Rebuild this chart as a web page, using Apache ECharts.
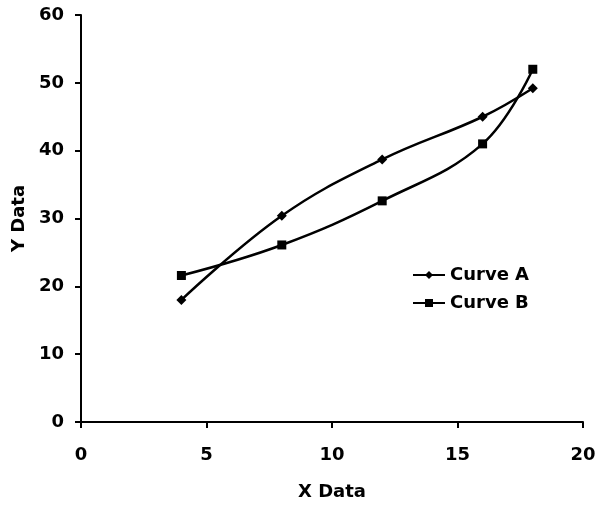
<!DOCTYPE html>
<html><head><meta charset="utf-8">
<script src="https://cdn.jsdelivr.net/npm/echarts@6/dist/echarts.min.js"></script>
<style>html,body{margin:0;padding:0;background:#fff}#c{width:595px;height:506px}</style>
</head><body><div id="c"></div>
<script>
const xValues = [4, 8, 12, 16, 18];
const curveA = [18.0, 30.4, 38.7, 45.0, 49.2];
const curveB = [21.6, 26.1, 32.6, 41.0, 52.0];
const seriesNames = ['Curve A', 'Curve B'];

const chart = echarts.init(document.getElementById('c'));
const font = '"DejaVu Sans", Arial, sans-serif';
const axisCommon = {
  axisLine: { show: true, lineStyle: { color: '#000', width: 2 } },
  axisTick: { show: true, inside: false, length: 6, lineStyle: { color: '#000', width: 2 } },
  splitLine: { show: false },
  axisLabel: { color: '#000', fontFamily: font, fontWeight: 'bold', fontSize: 18 },
  nameTextStyle: { color: '#000', fontFamily: font, fontWeight: 'bold', fontSize: 18 }
};
chart.setOption({
  animation: false,
  backgroundColor: '#fff',
  grid: { left: 81, right: 12, top: 15, bottom: 84, containLabel: false, outerBoundsMode: 'none' },
  xAxis: Object.assign({}, axisCommon, {
    type: 'value', min: 0, max: 20, interval: 5,
    name: 'X Data', nameLocation: 'middle', nameGap: 61,
    axisLabel: Object.assign({}, axisCommon.axisLabel, { margin: 24 })
  }),
  yAxis: Object.assign({}, axisCommon, {
    type: 'value', min: 0, max: 60, interval: 10,
    name: 'Y Data', nameLocation: 'middle', nameGap: 48, nameRotate: 90,
    axisLabel: Object.assign({}, axisCommon.axisLabel, { margin: 17 })
  }),
  legend: {
    left: 407, top: 261, orient: 'vertical', itemGap: 10,
    itemWidth: 32, itemHeight: 10,
    textStyle: { color: '#000', fontFamily: font, fontWeight: 'bold', fontSize: 18, lineHeight: 18, padding: [0, 0, 0, 0] },
    data: seriesNames.map(n => ({ name: n }))
  },
  series: [
    {
      name: seriesNames[0], type: 'line', smooth: 0.4,
      data: xValues.map((x, i) => [x, curveA[i]]),
      symbol: 'diamond', symbolSize: 10,
      lineStyle: { color: '#000', width: 2.5 },
      itemStyle: { color: '#000' }
    },
    {
      name: seriesNames[1], type: 'line', smooth: 0.4,
      data: xValues.map((x, i) => [x, curveB[i]]),
      symbol: 'rect', symbolSize: 9,
      lineStyle: { color: '#000', width: 2.5 },
      itemStyle: { color: '#000' }
    }
  ]
});
</script></body></html>
